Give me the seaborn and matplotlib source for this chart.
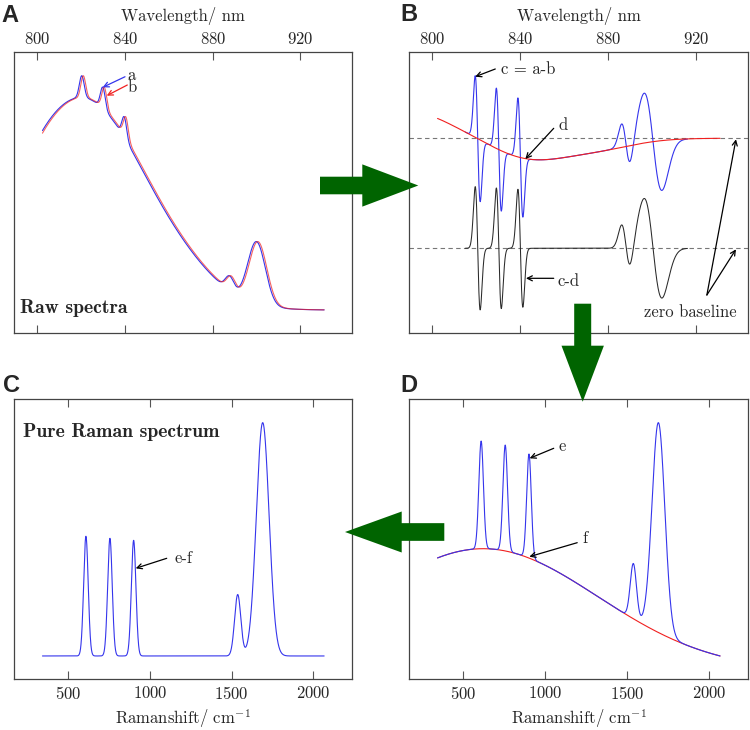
import numpy as np
import matplotlib
matplotlib.use('Agg')
import matplotlib.pyplot as plt
import seaborn as sns
from matplotlib.patches import Polygon

sns.set_style('white')
plt.rcParams['font.family'] = ['cmr10', 'DejaVu Serif']
plt.rcParams['mathtext.fontset'] = 'cm'
plt.rcParams['axes.formatter.use_mathtext'] = True
plt.rcParams['axes.unicode_minus'] = False

# ---- values ----
# raw spectrum a (wavelength axis, nm)
nm_range = [802.4, 930.8]
nm_ticks = [800, 840, 880, 920]
raw_peak_nm = [820.3, 829.9, 839.7, 887.7, 900.0]
raw_peak_height = [9.3, 9.1, 8.9, 6.0, 26.5]
raw_peak_sigma = [1.1, 1.1, 1.1, 1.96, 4.0]
# fluorescence background under a
raw_bg_nm = [800.0, 821.0, 870.0]
raw_bg_height = [3.5, 90.0, 4.0]
raw_bg_sigma = [12.0, 29.0, 15.0]
# spectrum b = a shifted by this much (nm)
shift_nm = 0.7
# panel B: span where c and c-d were drawn, offset of lower zero line
cd_range = [815.0, 916.0]
cd_offset = 6.2

# Raman shift axis (cm-1)
cm_range = [342, 2066]
cm_ticks = [500, 1000, 1500, 2000]
raman_peak_cm = [608, 755, 900, 1537, 1690]
raman_peak_height = [119, 117, 115, 61, 232]
raman_peak_sigma = [14, 14, 14, 19, 39]
# baseline f in panel D
base_f_centre = [620]
base_f_height = [122.4]
base_f_sigma = [700]
base_f_offset = -14.7
raman_scale_D = 0.91

BLUE = '#3535ec'
RED = '#f02020'
GREEN = '#006400'
W, H = 750, 730


def bands(x, centres, heights, sigmas):
    y = np.zeros_like(x)
    for c, h, s in zip(centres, heights, sigmas):
        y += h * np.exp(-0.5 * ((x - c) / s) ** 2)
    return y


def background(x):
    return bands(x, raw_bg_nm, raw_bg_height, raw_bg_sigma)


def raw(x):
    return background(x) + bands(x, raw_peak_nm, raw_peak_height, raw_peak_sigma)


def line(ax, x, y, color, lw=0.8, alpha=1.0):
    sns.lineplot(x=x, y=y, ax=ax, color=color, linewidth=lw, alpha=alpha,
                 estimator=None, sort=False)


def style_axes(ax, ticks, top):
    ax.set_xticks(ticks)
    ax.set_yticks([])
    ax.margins(x=0.1, y=0.1)
    ax.tick_params(axis='x', direction='in', top=True, bottom=True,
                   labeltop=top, labelbottom=not top, length=6, width=0.8,
                   color='#555555', labelsize=12, pad=4)
    for sp in ax.spines.values():
        sp.set_color('#444444')
        sp.set_linewidth(0.9)
    ax.set_ylabel('')
    if top:
        ax.xaxis.set_label_position('top')
        ax.set_xlabel('Wavelength/ nm', fontsize=12, labelpad=7)
    else:
        ax.set_xlabel('Ramanshift/ cm$^{-1}$', fontsize=12, labelpad=4)


def arrow_note(ax, tail, head, color='black'):
    ax.annotate('', xy=head, xytext=tail, xycoords='axes fraction',
                textcoords='axes fraction',
                arrowprops=dict(arrowstyle='->', color=color, lw=0.9,
                                shrinkA=0, shrinkB=0, mutation_scale=9))


def note(ax, x, y, s, bold=False, **kw):
    ax.text(x, y, s, transform=ax.transAxes, fontsize=14.2 if bold else 12,
            family='cmb10' if bold else 'cmr10', va='baseline', ha='left', **kw)


def block_arrow(fig, tail, tip, shaft_w, head_w, head_len):
    tail = np.array(tail, float)
    tip = np.array(tip, float)
    u = (tip - tail) / np.linalg.norm(tip - tail)
    n = np.array([-u[1], u[0]])
    base = tip - u * head_len
    pts = [tail + n * shaft_w / 2, base + n * shaft_w / 2, base + n * head_w / 2,
           tip, base - n * head_w / 2, base - n * shaft_w / 2, tail - n * shaft_w / 2]
    pts = [(p[0] / W, 1 - p[1] / H) for p in pts]
    fig.patches.append(Polygon(pts, closed=True, facecolor=GREEN, edgecolor='none',
                               transform=fig.transFigure, zorder=10))


fig = plt.figure(figsize=(W / 100, H / 100), dpi=100)


def add_axes(left, top, right, bottom):
    return fig.add_axes([left / W, 1 - bottom / H, (right - left) / W, (bottom - top) / H])


axA = add_axes(14.3, 52.3, 352.3, 333.3)
axB = add_axes(409.3, 52.3, 748.3, 333.3)
axC = add_axes(14.3, 399.3, 352.3, 679.3)
axD = add_axes(409.3, 399.3, 748.3, 679.3)

# ---- A: raw spectra a and b ----
x_nm = np.linspace(nm_range[0], nm_range[1], 3000)
spec_a = raw(x_nm)
spec_b = raw(x_nm - shift_nm)
line(axA, x_nm, spec_a, BLUE)
line(axA, x_nm, spec_b, RED, alpha=0.7)
style_axes(axA, nm_ticks, top=True)
# 'a' above 'b', one text block
note(axA, 0.334, 0.859, 'a\nb', linespacing=0.72)
arrow_note(axA, (0.3275, 0.913), (0.2615, 0.8754), BLUE)
arrow_note(axA, (0.3343, 0.8836), (0.2734, 0.8456), RED)
note(axA, 0.017, 0.071, 'Raw spectra', bold=True)

# ---- B: difference spectra ----
spec_c = spec_a - spec_b
spec_d = background(x_nm) - background(x_nm - shift_nm)
spec_cd = spec_c - spec_d
keep = (x_nm >= cd_range[0]) & (x_nm <= cd_range[1])
axB.axhline(0, color='#777777', lw=0.8, ls=(0, (4, 3)))
axB.axhline(-cd_offset, color='#777777', lw=0.8, ls=(0, (4, 3)))
line(axB, x_nm[keep], spec_c[keep], BLUE)
line(axB, x_nm[keep], spec_cd[keep] - cd_offset, '#2a2a2a', lw=0.75)
line(axB, x_nm, spec_d, RED)
style_axes(axB, nm_ticks, top=True)
note(axB, 0.2713, 0.9217, 'c = a-b')
arrow_note(axB, (0.2536, 0.9406), (0.1944, 0.9132))
note(axB, 0.4408, 0.7235, 'd')
arrow_note(axB, (0.426, 0.7295), (0.3423, 0.6203))
note(axB, 0.4361, 0.1683, 'c-d')
arrow_note(axB, (0.426, 0.1957), (0.3441, 0.1957))
note(axB, 0.6923, 0.0591, 'zero baseline')
arrow_note(axB, (0.8778, 0.1363), (0.9636, 0.6904))
arrow_note(axB, (0.8778, 0.1363), (0.9636, 0.2989))

# ---- C / D: Raman shift ----
x_cm = np.linspace(cm_range[0], cm_range[1], 3000)
pure = bands(x_cm, raman_peak_cm, raman_peak_height, raman_peak_sigma)
base_f = base_f_offset + bands(x_cm, base_f_centre, base_f_height, base_f_sigma)
spec_e = base_f + raman_scale_D * pure

line(axC, x_cm, pure, BLUE)
style_axes(axC, cm_ticks, top=False)
note(axC, 0.0266, 0.8643, 'Pure Raman spectrum', bold=True)
note(axC, 0.4754, 0.4143, 'e-f')
arrow_note(axC, (0.4509, 0.4321), (0.3592, 0.3964))

line(axD, x_cm, base_f, RED)
line(axD, x_cm, spec_e, BLUE)
style_axes(axD, cm_ticks, top=False)
note(axD, 0.4408, 0.8164, 'e')
arrow_note(axD, (0.426, 0.825), (0.355, 0.7893))
note(axD, 0.51, 0.4857, 'f')
arrow_note(axD, (0.4953, 0.4879), (0.3541, 0.4379))

# panel letters
for s, px, py in [('A', 1.7, 21.7), ('B', 400.7, 21.0), ('C', 3.3, 392.0), ('D', 400.7, 392.3)]:
    fig.text(px / W, 1 - py / H, s, family='Liberation Sans', fontweight='bold',
             fontsize=17, va='baseline', ha='left')

# workflow arrows
block_arrow(fig, (320, 185.5), (418.3, 185.5), 17.6, 42.3, 56)
block_arrow(fig, (582.7, 303.7), (582.7, 401.7), 17.0, 42.4, 56)
block_arrow(fig, (444.3, 532), (345, 532), 17.7, 41.0, 56.7)

fig.savefig('out.png', dpi=100)
